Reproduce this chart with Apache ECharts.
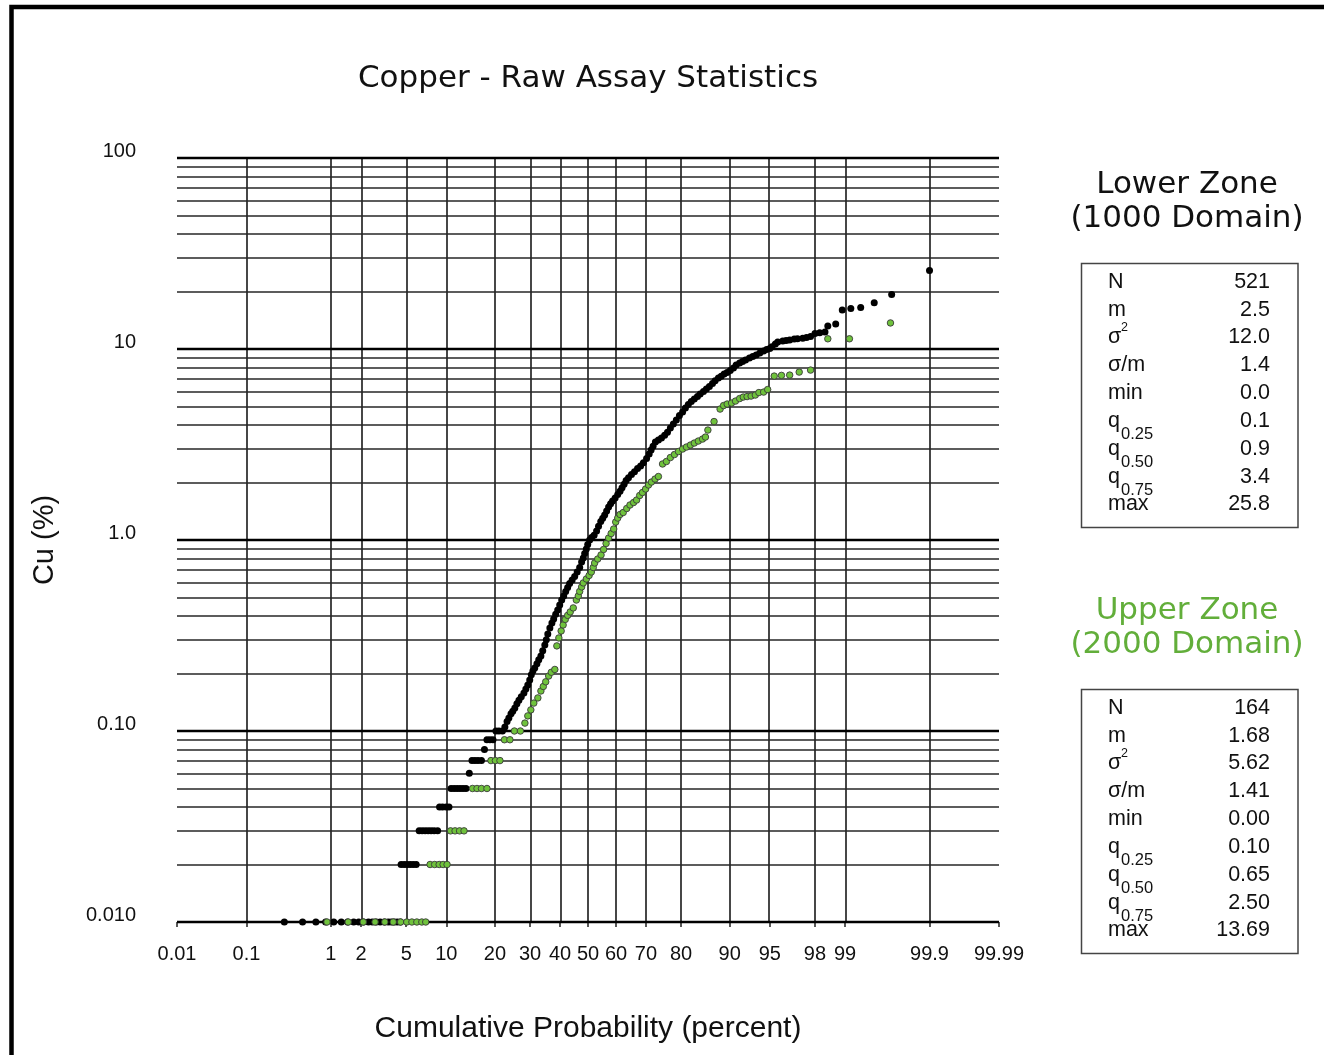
<!DOCTYPE html>
<html>
<head>
<meta charset="utf-8">
<script src="https://cdn.jsdelivr.net/npm/echarts@6/dist/echarts.min.js"></script>
<style>
html,body{margin:0;padding:0;background:#ffffff;}
#chart{width:1324px;height:1055px;}
</style>
</head>
<body>
<div id="chart"></div>
<script>
// ---------------- DATA ----------------
const chartTitle = 'Copper - Raw Assay Statistics';
const xAxisTitle = 'Cumulative Probability (percent)';
const yAxisTitle = 'Cu (%)';

const probTicks = [0.01, 0.1, 1, 2, 5, 10, 20, 30, 40, 50, 60, 70, 80, 90, 95, 98, 99, 99.9, 99.99];
const probTickLabels = ['0.01', '0.1', '1', '2', '5', '10', '20', '30', '40', '50', '60', '70', '80', '90', '95', '98', '99', '99.9', '99.99'];
const cuDecades = [0.01, 0.1, 1, 10, 100];
const cuDecadeLabels = ['0.010', '0.10', '1.0', '10', '100'];
const cuMinorSteps = [2, 3, 4, 5, 6, 7, 8, 9];

// Lower Zone (1000 Domain) - cumulative probability (%) and Cu (%)
const lowerProb = [
  0.30, 0.49, 0.69, 0.88, 1.07, 1.28, 1.48, 1.70, 1.90, 2.11, 2.35, 2.55, 2.77, 3.00, 3.26, 3.53, 3.75, 3.97, 4.21, 4.47,
  4.54, 4.81, 5.09, 5.38, 5.68, 6.00,
  6.33, 6.67, 7.03, 7.40, 7.78, 8.19, 8.68,
  8.96, 9.41, 9.96, 10.42,
  10.77, 11.28, 11.80, 12.34, 12.90, 13.48,
  14.14,
  14.69, 15.32, 15.98, 16.75,
  17.44,
  18.03, 18.75, 19.49,
  20.24, 21.01, 21.94,
  22.6, 23.2, 23.7, 24.3, 24.8, 25.4, 26.0, 26.6, 27.3, 28.1,
  28.7, 29.3, 29.9, 30.4, 30.9, 31.5, 32.2, 32.8, 33.5, 34.1,
  34.8, 35.3, 35.8, 36.5, 37.2, 37.8, 38.5, 39.2, 39.9, 40.6,
  41.3, 42.0, 42.7, 43.4, 44.3, 45.2, 46.1, 47.0, 47.7, 48.3,
  48.8, 49.4, 49.9, 50.6, 51.3, 52.2, 53.1, 53.8, 54.6, 55.3,
  56.0, 56.7, 57.4, 58.1, 58.8, 59.7, 60.6, 61.4, 62.1, 62.8,
  63.5, 64.3, 65.3, 66.3, 67.3, 68.3, 69.2, 70.2, 71.0, 71.6,
  72.2, 72.9, 73.8, 74.7, 75.6, 76.4, 77.2, 78.0, 78.8, 79.6,
  80.4, 81.1, 81.8, 82.5, 83.2, 83.9, 84.5, 85.2, 85.8, 86.4,
  87.0, 87.5, 88.1, 88.6, 89.1, 89.6, 90.1, 90.6, 91.0, 91.5,
  91.9, 92.3, 92.8, 93.2, 93.6, 94.0, 94.4, 94.7, 95.0, 95.2,
  95.5, 95.7, 96.1, 96.35, 96.6, 96.9, 97.1, 97.4, 97.6, 97.8,
  98.0, 98.2, 98.4, 98.5, 98.75, 98.93, 99.13, 99.32, 99.52, 99.70,
  99.90
];
const lowerCu = [
  0.01, 0.01, 0.01, 0.01, 0.01, 0.01, 0.01, 0.01, 0.01, 0.01, 0.01, 0.01, 0.01, 0.01, 0.01, 0.01, 0.01, 0.01, 0.01, 0.01,
  0.02, 0.02, 0.02, 0.02, 0.02, 0.02,
  0.03, 0.03, 0.03, 0.03, 0.03, 0.03, 0.03,
  0.04, 0.04, 0.04, 0.04,
  0.05, 0.05, 0.05, 0.05, 0.05, 0.05,
  0.06,
  0.07, 0.07, 0.07, 0.07,
  0.08,
  0.09, 0.09, 0.09,
  0.10, 0.10, 0.10,
  0.105, 0.112, 0.117, 0.123, 0.127, 0.132, 0.139, 0.145, 0.151, 0.158,
  0.166, 0.174, 0.185, 0.197, 0.206, 0.214, 0.225, 0.236, 0.247, 0.263,
  0.282, 0.300, 0.322, 0.346, 0.368, 0.386, 0.408, 0.430, 0.457, 0.485,
  0.509, 0.538, 0.564, 0.592, 0.618, 0.644, 0.680, 0.718, 0.767, 0.805,
  0.850, 0.897, 0.947, 1.00, 1.03, 1.06, 1.115, 1.18, 1.25, 1.30,
  1.35, 1.42, 1.49, 1.55, 1.60, 1.66, 1.73, 1.80, 1.88, 1.96,
  2.05, 2.12, 2.20, 2.28, 2.37, 2.44, 2.54, 2.67, 2.82, 2.96,
  3.10, 3.26, 3.34, 3.42, 3.54, 3.67, 3.86, 4.05, 4.25, 4.48,
  4.68, 4.91, 5.12, 5.31, 5.47, 5.64, 5.81, 5.99, 6.17, 6.36,
  6.59, 6.83, 7.04, 7.21, 7.39, 7.53, 7.71, 7.95, 8.24, 8.44,
  8.59, 8.75, 8.96, 9.13, 9.29, 9.52, 9.75, 9.93, 10.05, 10.29,
  10.61, 10.87, 11.0, 11.07, 11.13, 11.27, 11.33, 11.40, 11.47, 11.61,
  12.07, 12.16, 12.26, 13.18, 13.5, 15.98, 16.31, 16.51, 17.45, 19.31,
  25.8
];

// Upper Zone (2000 Domain)
const upperProb = [
  0.91, 1.5, 2.1, 2.7, 3.3, 3.9, 4.5, 5.05, 5.55, 6.07, 6.63, 7.1,
  7.65, 8.26, 8.90, 9.49, 10.11,
  10.68, 11.45, 12.26, 13.10,
  14.80, 15.76, 16.75, 18.03,
  18.99, 20.10, 21.28,
  22.48, 23.99,
  25.27, 27.03,
  28.4, 29.3, 30.25, 31.2, 32.5, 33.5, 34.3, 35.1, 36.1, 37.0,
  38.2, 38.9, 39.6, 40.4, 41.1, 41.85, 42.7, 43.6, 44.7, 45.8,
  46.5, 47.0, 47.7, 48.3, 49.4, 50.4, 51.2, 51.9, 52.4, 53.5,
  54.7, 55.6, 56.5, 57.4, 58.3, 59.2, 59.9, 60.6, 61.4, 62.5,
  63.7, 64.8, 66.0, 67.0, 68.0, 68.9, 69.9, 70.8, 71.7, 72.8,
  73.8, 75.0, 76.1, 77.2, 78.3, 79.35, 80.4, 81.35, 82.3, 83.2,
  84.1, 85.0, 85.6, 86.1, 87.3, 88.4, 89.0, 89.6, 90.3, 90.9,
  91.5, 92.0, 92.5, 93.0, 93.5, 93.9, 94.4, 94.8, 95.4, 96.0,
  96.6, 97.2, 97.8, 98.5, 99.1, 99.69
];
const upperCu = [
  0.01, 0.01, 0.01, 0.01, 0.01, 0.01, 0.01, 0.01, 0.01, 0.01, 0.01, 0.01,
  0.02, 0.02, 0.02, 0.02, 0.02,
  0.03, 0.03, 0.03, 0.03,
  0.05, 0.05, 0.05, 0.05,
  0.07, 0.07, 0.07,
  0.09, 0.09,
  0.10, 0.10,
  0.110, 0.120, 0.129, 0.140, 0.149, 0.162, 0.171, 0.181, 0.194, 0.203,
  0.210, 0.279, 0.307, 0.334, 0.359, 0.384, 0.403, 0.420, 0.441, 0.485,
  0.509, 0.538, 0.568, 0.596, 0.625, 0.652, 0.680, 0.718, 0.758, 0.795,
  0.835, 0.892, 0.959, 1.024, 1.081, 1.142, 1.242, 1.303, 1.360, 1.393,
  1.462, 1.525, 1.571, 1.619, 1.710, 1.773, 1.849, 1.940, 2.011, 2.085,
  2.149, 2.50, 2.575, 2.702, 2.802, 2.905, 2.994, 3.067, 3.141, 3.218,
  3.297, 3.377, 3.459, 3.764, 4.170, 4.847, 5.056, 5.149, 5.211, 5.338,
  5.501, 5.602, 5.636, 5.670, 5.739, 5.914, 5.950, 6.133, 7.214, 7.275,
  7.302, 7.570, 7.755, 11.31, 11.31, 13.69
];

// Summary statistics
const lowerTitle = ['Lower Zone', '(1000 Domain)'];
const upperTitle = ['Upper Zone', '(2000 Domain)'];
const statNames = ['N', 'm', 'σ', 'σ/m', 'min', 'q', 'q', 'q', 'max'];
const statSup = ['', '', '2', '', '', '', '', '', ''];
const statSub = ['', '', '', '', '', '0.25', '0.50', '0.75', ''];
const lowerStats = ['521', '2.5', '12.0', '1.4', '0.0', '0.1', '0.9', '3.4', '25.8'];
const upperStats = ['164', '1.68', '5.62', '1.41', '0.00', '0.10', '0.65', '2.50', '13.69'];

// ---------------- HELPERS ----------------
// Inverse standard normal CDF (probability-paper transform for the x axis)
function probit(p) {
  const a = [-3.969683028665376e+01, 2.209460984245205e+02, -2.759285104469687e+02, 1.383577518672690e+02, -3.066479806614716e+01, 2.506628277459239e+00];
  const b = [-5.447609879822406e+01, 1.615858368580409e+02, -1.556989798598866e+02, 6.680131188771972e+01, -1.328068155288572e+01];
  const c = [-7.784894002430293e-03, -3.223964580411365e-01, -2.400758277161838e+00, -2.549732539343734e+00, 4.374664141464968e+00, 2.938163982698783e+00];
  const d = [7.784695709041462e-03, 3.224671290700398e-01, 2.445134137142996e+00, 3.754408661907416e+00];
  const pl = 0.02425, ph = 1 - pl;
  let q, r;
  if (p < pl) {
    q = Math.sqrt(-2 * Math.log(p));
    return (((((c[0] * q + c[1]) * q + c[2]) * q + c[3]) * q + c[4]) * q + c[5]) / ((((d[0] * q + d[1]) * q + d[2]) * q + d[3]) * q + 1);
  }
  if (p <= ph) {
    q = p - 0.5; r = q * q;
    return (((((a[0] * r + a[1]) * r + a[2]) * r + a[3]) * r + a[4]) * r + a[5]) * q / (((((b[0] * r + b[1]) * r + b[2]) * r + b[3]) * r + b[4]) * r + 1);
  }
  q = Math.sqrt(-2 * Math.log(1 - p));
  return -(((((c[0] * q + c[1]) * q + c[2]) * q + c[3]) * q + c[4]) * q + c[5]) / ((((d[0] * q + d[1]) * q + d[2]) * q + d[3]) * q + 1);
}

const zTicks = probTicks.map(p => probit(p / 100));
const xMin = zTicks[0];
const xMax = zTicks[zTicks.length - 1];

function probLabel(v) {
  let best = 0;
  for (let i = 1; i < zTicks.length; i++) {
    if (Math.abs(zTicks[i] - v) < Math.abs(zTicks[best] - v)) best = i;
  }
  return probTickLabels[best];
}
function cuLabel(v) {
  const k = Math.round(Math.log10(v));
  const idx = cuDecades.findIndex(d => Math.round(Math.log10(d)) === k);
  return idx >= 0 ? cuDecadeLabels[idx] : '';
}

const lowerData = lowerProb.map((p, i) => [probit(p / 100), lowerCu[i]]);
const upperData = upperProb.map((p, i) => [probit(p / 100), upperCu[i]]);

// grid lines
const gridLines = [];
zTicks.forEach(z => gridLines.push({ xAxis: z, lineStyle: { color: '#262626', width: 1.7, type: 'solid' } }));
cuDecades.forEach(d => {
  cuMinorSteps.forEach(s => {
    const v = d * s;
    if (v < 100) gridLines.push({ yAxis: v, lineStyle: { color: '#262626', width: 1.5, type: 'solid' } });
  });
});
cuDecades.forEach(d => gridLines.push({ yAxis: d, lineStyle: { color: '#000', width: 2.3, type: 'solid' } }));

// ---------------- GRAPHICS (titles / stat boxes) ----------------
const GREEN_TEXT = '#62ae3a';
const BODY_FONT = 'Liberation Sans, Arial, sans-serif';
const TITLE_FONT = 'DejaVu Sans, Verdana, sans-serif';

function txt(x, y, text, size, family, color, align) {
  return {
    type: 'text', x: x, y: y, silent: true,
    style: {
      text: text, fontSize: size, fontFamily: family, fill: color,
      textAlign: align, textVerticalAlign: 'middle', align: align, verticalAlign: 'middle'
    }
  };
}

function statBlock(titleLines, values, color, top) {
  const els = [];
  els.push(txt(1187, top - 78, titleLines[0], 31, TITLE_FONT, color, 'center'));
  els.push(txt(1187, top - 44, titleLines[1], 31, TITLE_FONT, color, 'center'));
  els.push({
    type: 'rect', silent: true,
    shape: { x: 1081.5, y: top + 0.5, width: 216.5, height: 264 },
    style: { fill: 'none', stroke: '#444', lineWidth: 1.5 }
  });
  const rowY = [19, 47, 74, 102, 130, 158, 186, 214, 241];
  statNames.forEach((name, i) => {
    const y = top + rowY[i];
    els.push(txt(1108, y, name, 21.5, BODY_FONT, '#111', 'left'));
    if (statSup[i]) els.push(txt(1121, y - 9, statSup[i], 12.5, BODY_FONT, '#111', 'left'));
    if (statSub[i]) els.push(txt(1121, y + 13, statSub[i], 16.5, BODY_FONT, '#111', 'left'));
    els.push(txt(1270, y, values[i], 21.5, BODY_FONT, '#111', 'right'));
  });
  return els;
}

const graphics = [
  {
    type: 'rect', silent: true, z: 100,
    shape: { x: 11.5, y: 7, width: 1400, height: 1100 },
    style: { fill: 'none', stroke: '#000', lineWidth: 4.5 }
  },
  txt(588, 79, chartTitle, 31, TITLE_FONT, '#111', 'center')
].concat(statBlock(lowerTitle, lowerStats, '#111', 263))
 .concat(statBlock(upperTitle, upperStats, GREEN_TEXT, 689));

// ---------------- CHART ----------------
const chart = echarts.init(document.getElementById('chart'), null, { renderer: 'canvas' });
chart.setOption({
  backgroundColor: '#ffffff',
  animation: false,
  grid: { left: 177, right: 325, top: 158, bottom: 133, containLabel: false },
  xAxis: {
    type: 'value',
    min: xMin, max: xMax,
    name: xAxisTitle,
    nameLocation: 'middle',
    nameGap: 92,
    nameTextStyle: { fontSize: 30, fontFamily: BODY_FONT, color: '#111' },
    axisLine: { show: false },
    splitLine: { show: false },
    axisTick: { show: true, customValues: zTicks, length: 5, inside: false, lineStyle: { color: '#222', width: 1.5 } },
    axisLabel: {
      show: true, customValues: zTicks, margin: 22,
      fontSize: 20, fontFamily: BODY_FONT, color: '#111',
      formatter: probLabel
    }
  },
  yAxis: {
    type: 'log', logBase: 10,
    min: 0.01, max: 100,
    name: yAxisTitle,
    nameLocation: 'middle',
    nameGap: 118,
    nameRotate: 90,
    nameTextStyle: { fontSize: 29, fontFamily: BODY_FONT, color: '#111' },
    axisLine: { show: false },
    splitLine: { show: false },
    minorTick: { show: false },
    axisTick: { show: true, length: 6, inside: false, lineStyle: { color: '#000', width: 2 } },
    axisLabel: {
      show: true, margin: 41,
      fontSize: 20, fontFamily: BODY_FONT, color: '#111',
      verticalAlign: 'bottom', lineHeight: 14,
      formatter: cuLabel
    }
  },
  series: [
    {
      name: 'grid',
      type: 'line',
      data: [],
      z: 1,
      silent: true,
      markLine: {
        z: 1,
        silent: true,
        animation: false,
        symbol: ['none', 'none'],
        label: { show: false },
        emphasis: { disabled: true },
        data: gridLines
      }
    },
    {
      name: 'Lower Zone (1000 Domain)',
      type: 'scatter',
      z: 10,
      symbol: 'circle',
      symbolSize: 7,
      itemStyle: { color: '#000000', opacity: 1 },
      emphasis: { disabled: true },
      data: lowerData
    },
    {
      name: 'Upper Zone (2000 Domain)',
      type: 'scatter',
      z: 11,
      symbol: 'circle',
      symbolSize: 6.5,
      itemStyle: { color: '#6fc23c', borderColor: '#3a3a3a', borderWidth: 0.9, opacity: 1 },
      emphasis: { disabled: true },
      data: upperData
    }
  ],
  graphic: { elements: graphics }
});
</script>
</body>
</html>
